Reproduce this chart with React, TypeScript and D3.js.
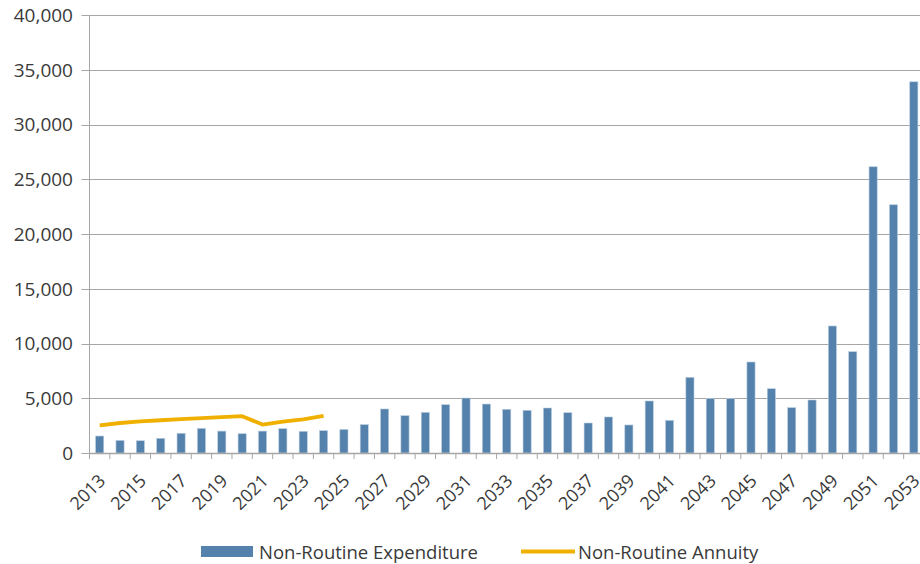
import React from 'react';
import * as d3 from 'd3';

const years: number[] = d3.range(2013, 2054);

const expenditure: number[] = [
  1550, 1150, 1120, 1340, 1800, 2250, 2000, 1760, 2000, 2220, 1980, 2040,
  2150, 2590, 4020, 3410, 3710, 4410, 5020, 4470, 3990, 3900, 4110, 3680,
  2740, 3290, 2560, 4750, 2980, 6910, 4960, 4960, 8310, 5870, 4140, 4840,
  11600, 9250, 26140, 22670, 33900,
];

const annuityYears: number[] = [2013, 2014, 2015, 2016, 2017, 2018, 2019, 2020, 2021, 2022, 2023, 2024];
const annuity: number[] = [2520, 2740, 2880, 2990, 3090, 3180, 3270, 3360, 2600, 2860, 3080, 3400];

const yTicks: number[] = [0, 5000, 10000, 15000, 20000, 25000, 30000, 35000, 40000];

const FONT = '"Open Sans", "Noto Sans", sans-serif';
const TEXT = '#3a3a3a';
const BLUE = '#5582ac';
const GOLD = '#f0b000';

const width = 920;
const height = 564;
const margin = { top: 15, right: -4, bottom: 111, left: 89.5 };

const App: React.FC = () => {
  const x = d3.scaleBand<number>()
    .domain(years)
    .range([margin.left, width - margin.right])
    .padding(0);

  const y = d3.scaleLinear()
    .domain([0, 40000])
    .range([height - margin.bottom, margin.top]);

  const step = x.step();
  const barW = step * 0.4;
  const cx = (yr: number) => (x(yr) ?? 0) + step / 2;
  const fmt = d3.format(',');

  const line = d3.line<number>()
    .x((_, i) => cx(annuityYears[i]))
    .y(d => y(d));

  const y0 = y(0);

  return (
    <svg width={width} height={height} style={{ position: 'absolute', left: 0, top: 0 }}>
      {/* gridlines */}
      {yTicks.filter(t => t > 0).map(t => (
        <line key={t} x1={margin.left} x2={width} y1={Math.round(y(t)) + 0.5} y2={Math.round(y(t)) + 0.5}
          stroke="#a6a6a6" strokeWidth={1} />
      ))}

      {/* bars */}
      {years.map((yr, i) => (
        <rect key={yr} x={cx(yr) - barW / 2} y={y(expenditure[i])} width={barW}
          height={y0 - y(expenditure[i])} fill={BLUE} stroke="#b9cde0" strokeWidth={0.6} />
      ))}

      {/* annuity line */}
      <path d={line(annuity) ?? ''} fill="none" stroke={GOLD} strokeWidth={3.8} strokeLinejoin="round" />

      {/* y axis */}
      <line x1={margin.left} x2={margin.left} y1={margin.top} y2={y0} stroke="#a6a6a6" />
      {yTicks.map(t => (
        <g key={t}>
          <line x1={margin.left - 8} x2={margin.left} y1={Math.round(y(t)) + 0.5} y2={Math.round(y(t)) + 0.5} stroke="#a6a6a6" />
          <text x={73} y={y(t)} dy="0.36em" textAnchor="end" fontFamily={FONT} fontSize={19} fill={TEXT}>
            {fmt(t)}
          </text>
        </g>
      ))}

      {/* x axis */}
      <line x1={margin.left} x2={width} y1={Math.round(y0) + 0.5} y2={Math.round(y0) + 0.5} stroke="#a6a6a6" strokeWidth={1.5} />
      {d3.range(years.length + 1).map(i => (
        <line key={i} x1={margin.left + i * step} x2={margin.left + i * step} y1={y0} y2={y0 + 6} stroke="#a6a6a6" />
      ))}
      {years.filter((_, i) => i % 2 === 0).map(yr => (
        <text key={yr} transform={`translate(${cx(yr) - 2},${y0 + 20}) rotate(-45)`} textAnchor="end" dy="0.7em"
          fontFamily={FONT} fontSize={18} fill={TEXT}>
          {yr}
        </text>
      ))}

      {/* legend */}
      <rect x={201} y={546} width={52} height={11} fill={BLUE} />
      <text x={259} y={558.5} fontFamily={FONT} fontSize={18.5} fill={TEXT}>Non-Routine Expenditure</text>
      <line x1={521} x2={575} y1={551.5} y2={551.5} stroke={GOLD} strokeWidth={3.8} />
      <text x={578} y={558.5} fontFamily={FONT} fontSize={18.5} fill={TEXT}>Non-Routine Annuity</text>
    </svg>
  );
};

export default App;
